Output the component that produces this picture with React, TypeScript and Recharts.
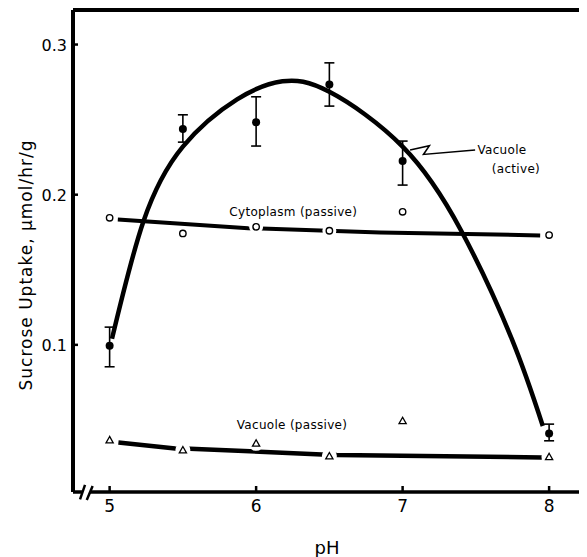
import React from 'react';
import {
  ComposedChart,
  Line,
  Scatter,
  XAxis,
  YAxis,
  ErrorBar,
  ReferenceLine,
  ReferenceDot,
} from 'recharts';

// pH measurement points
const PH_POINTS = [5, 5.5, 6, 6.5, 7, 8];

// Vacuole (active) – filled circles, with error bars
const activeMean = [0.0994, 0.2437, 0.2483, 0.2734, 0.2224, 0.041];
const activeLow = [0.0854, 0.235, 0.2324, 0.259, 0.2064, 0.0361];
const activeHigh = [0.1118, 0.2532, 0.2652, 0.2878, 0.2357, 0.0472];

// hand-drawn curve through the active points
const activeCurvePH = [5.016, 5.23, 5.5, 5.87, 6.18, 6.5, 7.0, 7.4, 7.745, 7.957];
const activeCurveVal = [0.104, 0.182, 0.232, 0.2635, 0.2755, 0.2685, 0.232, 0.176, 0.104, 0.046];

// Cytoplasm (passive) – open circles
const cytoVal = [0.1846, 0.1742, 0.1786, 0.176, 0.1886, 0.1731];
const cytoLinePH = [5.056, 5.945, 6.846, 7.939];
const cytoLineVal = [0.1835, 0.1777, 0.1749, 0.1729];

// Vacuole (passive) – open triangles
const vacPassVal = [0.0366, 0.0299, 0.0344, 0.0259, 0.0494, 0.0254];
const vacPassLinePH = [5.06, 5.447, 5.549, 6.448, 6.551, 7.95];
const vacPassLineVal = [0.035, 0.031, 0.0308, 0.027, 0.0266, 0.025];

// zig-zag leader to the "Vacuole (active)" label
const leaderPH = [7.051, 7.183, 7.142, 7.495];
const leaderVal = [0.2297, 0.2326, 0.2268, 0.2297];

const X_TICKS = [5, 6, 7, 8];
const Y_TICKS = [0.1, 0.2, 0.3];

const X_MIN = 4.75;
const X_MAX = 8.245;
const Y_MIN = 0.002;
const Y_MAX = 0.323;

const FONT = 'DejaVu Sans';

const zip = (xs: number[], ys: number[]) => xs.map((x, i) => ({ x, y: ys[i] }));

const activePoints = PH_POINTS.map((x, i) => ({
  x,
  y: activeMean[i],
  err: [activeMean[i] - activeLow[i], activeHigh[i] - activeMean[i]],
}));
const activeCurve = zip(activeCurvePH, activeCurveVal);
const cytoPoints = zip(PH_POINTS, cytoVal);
const cytoLine = zip(cytoLinePH, cytoLineVal);
const vacPassPoints = zip(PH_POINTS, vacPassVal);
const vacPassLine = zip(vacPassLinePH, vacPassLineVal);
const leader = zip(leaderPH, leaderVal);

const XTick = (props: any) => {
  const { x, y, payload } = props;
  return (
    <g>
      <line x1={x} y1={y} x2={x} y2={y - 6} stroke="#000" strokeWidth={2.5} />
      <text x={x} y={y + 20} textAnchor="middle" fontFamily={FONT} fontSize={17} fill="#000">
        {payload.value}
      </text>
    </g>
  );
};

const YTick = (props: any) => {
  const { x, y, payload } = props;
  return (
    <g>
      <line x1={x} y1={y} x2={x + 5} y2={y} stroke="#000" strokeWidth={2.5} />
      <text x={x - 6} y={y + 6} textAnchor="end" fontFamily={FONT} fontSize={16} fill="#000">
        {Number(payload.value).toFixed(1)}
      </text>
    </g>
  );
};

const OpenCircle = (props: any) => {
  const { cx, cy } = props;
  return (
    <g>
      <circle cx={cx} cy={cy} r={7} fill="#fff" />
      <circle cx={cx} cy={cy} r={3.2} fill="#fff" stroke="#000" strokeWidth={1.4} />
    </g>
  );
};

const OpenTriangle = (props: any) => {
  const { cx, cy } = props;
  return (
    <g>
      <circle cx={cx} cy={cy} r={7.5} fill="#fff" />
      <path
        d={`M${cx},${cy - 3.6}L${cx - 3.6},${cy + 2.8}L${cx + 3.6},${cy + 2.8}Z`}
        fill="#fff"
        stroke="#000"
        strokeWidth={1.3}
      />
    </g>
  );
};

const FilledDot = (props: any) => {
  const { cx, cy } = props;
  return <circle cx={cx} cy={cy} r={4} fill="#000" />;
};

const textLabel = (text: string) => (props: any) => {
  const vb = props.viewBox || {};
  const x = (vb.x ?? 0) + (vb.width ?? 0) / 2;
  const y = (vb.y ?? 0) + (vb.height ?? 0) / 2;
  return (
    <text x={x} y={y + 4.3} textAnchor="start" fontFamily={FONT} fontSize={12} fill="#000" letterSpacing={0.3}>
      {text}
    </text>
  );
};

const labels = [
  { x: 5.817, y: 0.189, text: 'Cytoplasm (passive)' },
  { x: 5.868, y: 0.0466, text: 'Vacuole (passive)' },
  { x: 7.511, y: 0.2297, text: 'Vacuole' },
  { x: 7.609, y: 0.2175, text: '(active)' },
];

export default function App() {
  return (
    <ComposedChart
      width={579}
      height={549}
      margin={{ top: 2, right: 2, bottom: 5, left: 15 }}
    >
      <XAxis
        dataKey="x"
        type="number"
        domain={[X_MIN, X_MAX]}
        allowDataOverflow
        ticks={X_TICKS}
        axisLine={false}
        tickLine={false}
        tickSize={0}
        tickMargin={0}
        height={60}
        tick={<XTick />}
        label={(p: any) => (
          <text x={319} y={546} textAnchor="middle" fontFamily={FONT} fontSize={18} fill="#000">
            pH
          </text>
        )}
      />
      <YAxis
        type="number"
        domain={[Y_MIN, Y_MAX]}
        allowDataOverflow
        ticks={Y_TICKS}
        width={50}
        axisLine={{ stroke: '#000', strokeWidth: 4 }}
        tickLine={false}
        tickSize={0}
        tickMargin={0}
        tick={<YTick />}
        label={(p: any) => (
          <text
            x={18}
            y={257}
            transform="rotate(-90 18 257)"
            textAnchor="middle"
            dominantBaseline="central"
            fontFamily={FONT}
            fontSize={17}
            letterSpacing={1}
            fill="#000"
          >
            Sucrose Uptake, µmol/hr/g
          </text>
        )}
      />

      {/* frame: top, right, bottom with axis break */}
      <ReferenceLine y={Y_MAX} stroke="#000" strokeWidth={4} />
      <ReferenceLine x={X_MAX} stroke="#000" strokeWidth={4.5} />
      <ReferenceLine
        segment={[{ x: X_MIN, y: Y_MIN }, { x: 4.811, y: Y_MIN }]}
        stroke="#000"
        strokeWidth={3.5}
        ifOverflow="visible"
      />
      <ReferenceLine
        segment={[{ x: 4.866, y: Y_MIN }, { x: X_MAX, y: Y_MIN }]}
        stroke="#000"
        strokeWidth={3.5}
        ifOverflow="visible"
      />
      <ReferenceLine
        segment={[{ x: 4.798, y: -0.0029 }, { x: 4.832, y: 0.0067 }]}
        stroke="#000"
        strokeWidth={2.5}
        ifOverflow="visible"
      />
      <ReferenceLine
        segment={[{ x: 4.844, y: -0.0033 }, { x: 4.884, y: 0.006 }]}
        stroke="#000"
        strokeWidth={2.5}
        ifOverflow="visible"
      />

      <Line data={cytoLine} dataKey="y" type="linear" stroke="#000" strokeWidth={4} dot={false} isAnimationActive={false} />
      <Line data={vacPassLine} dataKey="y" type="linear" stroke="#000" strokeWidth={4.5} dot={false} isAnimationActive={false} />
      <Scatter data={cytoPoints} dataKey="y" shape={<OpenCircle />} isAnimationActive={false} />
      <Scatter data={vacPassPoints} dataKey="y" shape={<OpenTriangle />} isAnimationActive={false} />

      <Line data={activeCurve} dataKey="y" type="natural" stroke="#000" strokeWidth={4.5} dot={false} isAnimationActive={false} />
      <Line data={leader} dataKey="y" type="linear" stroke="#000" strokeWidth={1.5} dot={false} isAnimationActive={false} />
      <Scatter data={activePoints} dataKey="y" shape={<FilledDot />} isAnimationActive={false}>
        <ErrorBar dataKey="err" direction="y" width={5} strokeWidth={1.6} stroke="#000" />
      </Scatter>

      {labels.map((l) => (
        <ReferenceDot
          key={l.text}
          x={l.x}
          y={l.y}
          r={0}
          fill="none"
          stroke="none"
          label={textLabel(l.text)}
        />
      ))}
    </ComposedChart>
  );
}
